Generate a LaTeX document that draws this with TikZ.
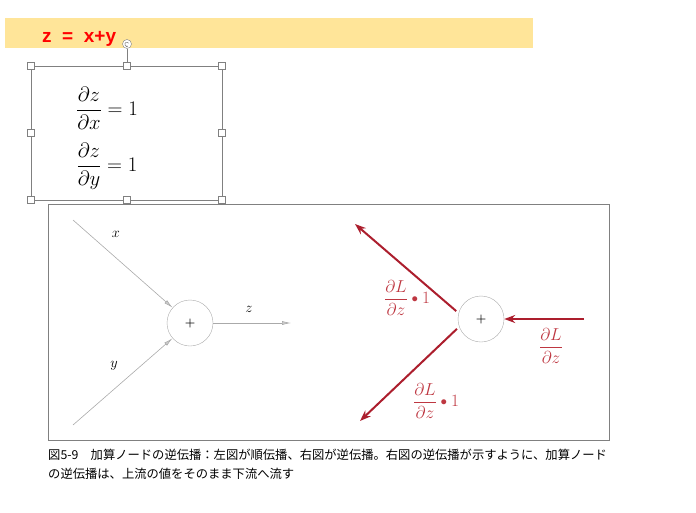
\documentclass[tikz,border=0pt]{standalone}
\usepackage{amsmath,amssymb}
\usepackage{fontspec}
\setsansfont{Liberation Sans}
\newfontfamily\jpfont{Noto Sans CJK JP}
\usepackage{tikz}
\usetikzlibrary{arrows.meta}
\definecolor{YellowNote}{RGB}{255,229,153}
\definecolor{GrayFrame}{RGB}{128,128,128}
\definecolor{GrayForward}{RGB}{170,170,170}
\definecolor{RedBackward}{RGB}{172,30,45}
\definecolor{RedLabel}{RGB}{190,55,65}
\newcommand{\smalldot}{\mathbin{\vcenter{\hbox{\scalebox{0.75}{$\bullet$}}}}}

\begin{document}
\begin{tikzpicture}[x=1pt,y=-1pt,>=Latex]
  \useasboundingbox (0,0) rectangle (696,512);
  % note on top
  \fill[YellowNote] (5,18) rectangle (533,48);
  \node[anchor=base west,text=red,font=\sffamily\bfseries\fontsize{19}{22}\selectfont,inner sep=0pt] (sumEq) at (42,42) {z~~=~~x+y};
  % selected box with handles
  \draw[GrayFrame] (31,66) rectangle (222,200);
  \draw[GrayFrame] (127,49) -- (127,66);
  \node[circle,draw=GrayFrame,fill=white,minimum size=9pt,inner sep=0pt] (rotHandle) at (127,44) {};
  \draw[GrayFrame,line width=0.5pt,-{Latex[length=1.5pt,width=1.8pt]}] ([shift={(1.6,-0.8)}]rotHandle.center) arc[start angle=30,end angle=300,radius=2pt];
  \foreach \hx/\hy [count=\i] in {31/66,127/66,222/66,31/133,222/133,31/200,127/200,222/200}
    \node[draw=GrayFrame,fill=white,minimum size=7pt,inner sep=0pt] (handle\i) at (\hx,\hy) {};
  \node[font=\fontsize{20}{24}\selectfont] (dzdx) at (107,108) {$\dfrac{\partial z}{\partial x}=1$};
  \node[font=\fontsize{20}{24}\selectfont] (dzdy) at (107,166) {$\dfrac{\partial z}{\partial y}=1$};
  % figure frame
  \draw[GrayFrame] (48,204) rectangle (609,440);
  % forward pass
  \node[circle,draw=GrayForward,minimum size=46pt,inner sep=0pt,font=\fontsize{12}{12}\selectfont\boldmath] (addF) at (190,323) {$+$};
  \coordinate (xIn) at (73,220);
  \coordinate (yIn) at (73,425);
  \coordinate (zOut) at (291,323);
  \draw[GrayForward,line width=0.6pt,-{Latex[length=9pt,width=4pt,fill=GrayForward!60]}] (xIn) -- (addF);
  \draw[GrayForward,line width=0.6pt,-{Latex[length=9pt,width=4pt,fill=GrayForward!60]}] (yIn) -- (addF);
  \draw[GrayForward,line width=0.6pt,-{Latex[length=9pt,width=4pt,fill=GrayForward!60]}] (addF) -- (zOut);
  \node[font=\fontsize{15}{16}\selectfont] (xLab) at (116,234) {$x$};
  \node[font=\fontsize{15}{16}\selectfont] (yLab) at (114,366) {$y$};
  \node[font=\fontsize{15}{16}\selectfont] (zLab) at (249,309) {$z$};
  % backward pass
  \node[circle,draw=GrayForward,minimum size=46pt,inner sep=0pt,font=\fontsize{12}{12}\selectfont\boldmath] (addB) at (481,319) {$+$};
  \coordinate (dLIn) at (584,319);
  \coordinate (dxOut) at (355,224);
  \coordinate (dyOut) at (360,421);
  \draw[RedBackward,line width=2pt,-{Stealth[length=11pt,width=8pt]}] (dLIn) -- (addB);
  \draw[RedBackward,line width=2pt,-{Stealth[length=11pt,width=8pt]}] ([shift={(-3,0)}]addB.160) -- (dxOut);
  \draw[RedBackward,line width=2pt,-{Stealth[length=11pt,width=8pt]}] ([shift={(-3,0)}]addB.205) -- (dyOut);
  \node[text=RedLabel,font=\fontsize{17}{19}\selectfont] (dxLab) at (407,298) {$\dfrac{\partial L}{\partial z}\smalldot 1$};
  \node[text=RedLabel,font=\fontsize{17}{19}\selectfont] (dyLab) at (436,401) {$\dfrac{\partial L}{\partial z}\smalldot 1$};
  \node[text=RedLabel,font=\fontsize{17}{19}\selectfont] (dzLab) at (551,346) {$\dfrac{\partial L}{\partial z}$};
  % caption
  \node[anchor=base west,inner sep=0pt,font=\jpfont\fontsize{12.3}{14}\selectfont] (capA) at (48,459) {図5-9　加算ノードの逆伝播：左図が順伝播、右図が逆伝播。右図の逆伝播が示すように、加算ノード};
  \node[anchor=base west,inner sep=0pt,font=\jpfont\fontsize{12.3}{14}\selectfont] (capB) at (48,478) {の逆伝播は、上流の値をそのまま下流へ流す};
\end{tikzpicture}
\end{document}
